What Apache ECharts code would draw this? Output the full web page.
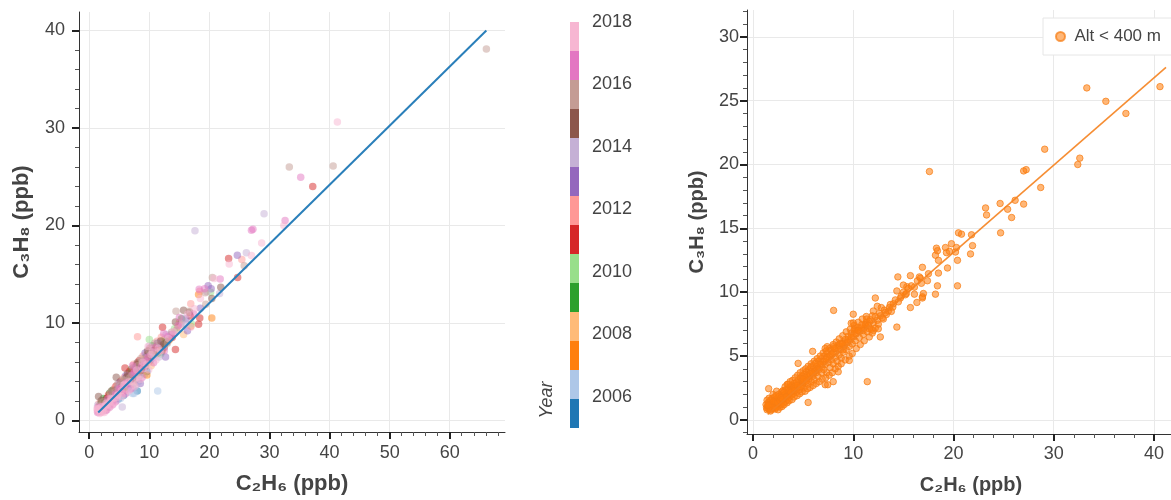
<!DOCTYPE html>
<html>
<head>
<meta charset="utf-8">
<script src="https://cdn.jsdelivr.net/npm/echarts@6/dist/echarts.min.js"></script>
<style>
  html, body { margin: 0; padding: 0; background: #fff; }
  #chart { width: 1171px; height: 500px; }
</style>
</head>
<body>
<div id="chart"></div>
<script>
// C2H6 / C3H8 mixing ratios (ppb), samples below 400 m grouped by year: [C2H6, C3H8]
const y2005 = [[8.0,3.0],[4.3,2.15],[6.5,3.4],[3.0,1.3],[10.2,6.2],[12.0,7.0],[4.9,2.2],[5.7,2.55],[9.6,5.0]];
const y2006 = [[11.4,3.0],[7.2,2.76],[7.45,2.76],[5.05,2.5],[3.65,1.8],[2.5,1.05],[6.85,3.7],[8.8,4.85],[1.6,0.85],[13.5,8.53],[3.25,1.45],[4.95,2.8],[6.1,3.15],
               [4.65,2.05],[5.2,2.25],[6.3,2.85],[8.2,4.0],[9.2,4.7]];
const y2007 = [[20.4,10.5],[16.9,9.65],[18.2,12.9],[9.6,4.66],[5.6,3.25],[7.8,4.7],[10.7,6.95],[13.3,8.25],[4.7,2.9],[2.35,1.15],[9.8,6.8],
               [3.8,2.2],[7.4,4.9],[12.2,7.2]];
const y2008 = [[14.7,9.55],[8.3,5.35],[6.2,4.0],[3.8,2.4],[11.1,7.2],[2.75,1.2],[12.6,8.35],[9.9,5.95],[5.15,2.95],[15.7,8.8],[11.2,7.4],[7.35,3.7],[15.5,10.3],
               [3.5,1.95],[5.3,3.2],[10.3,5.6],[11.2,7.5]];
const y2009 = [[3.4,2.78],[1.9,1.7],[2.15,1.55],[2.65,1.85],[2.9,2.05],[3.3,2.35],[4.55,3.15],[6.0,4.25],[7.1,5.0],[9.5,6.55],[2.4,1.7],[15.35,10.43],[12.7,8.15],[10.2,7.14],[4.5,2.75],[5.9,3.4],[12.0,7.6],
               [2.1,1.75],[2.85,2.2],[2.35,2.25],[3.95,3.1],[7.0,5.25],[10.5,7.65],[8.6,5.8]];
const y2010 = [[10.0,8.28],[20.2,13.15],[8.5,5.85],[5.3,3.75],[3.7,2.6],[12.2,8.1],[14.2,9.4],[6.8,4.8],[2.55,1.6],[17.0,9.9],[8.4,4.6],[11.0,6.7],
               [3.2,1.75],[5.6,3.45],[11.9,6.8],[10.1,6.75]];
const y2011 = [[37.2,24.0],[23.2,16.6],[24.7,14.65],[18.4,10.5],[18.2,9.85],[14.35,7.27],[5.95,5.37],[4.2,2.65],[7.4,5.2],[11.3,7.65],[2.2,1.3],[8.6,5.1],[13.8,8.5],[16.8,10.7],[12.2,9.55],[9.0,5.5],[3.4,2.1],[5.55,3.9],[10.0,6.5],
               [3.0,2.3],[3.2,2.6],[4.45,3.5],[5.25,4.0],[6.7,5.0],[7.7,5.05],[8.3,6.1],[10.1,7.4],[11.6,7.7]];
const y2012 = [[8.04,8.58],[12.0,8.53],[6.55,4.6],[9.2,6.3],[3.5,2.45],[15.0,10.0],[4.9,3.45],[1.85,1.3],[10.45,7.25],[25.4,16.5],[18.4,13.25],[16.9,11.95],[15.2,9.8],[7.4,5.74],[4.1,2.85],[5.8,3.0],[7.7,4.1],
               [1.6,1.7],[2.6,1.55],[4.2,3.3],[5.8,4.4],[7.65,5.6],[8.95,6.6],[11.3,8.1],[8.3,5.6]];
const y2013 = [[24.65,16.95],[19.8,13.8],[12.7,6.5],[13.6,8.8],[7.75,5.45],[9.1,5.8],[5.85,3.8],[3.9,2.7],[16.1,10.4],[20.3,13.5],[18.5,11.5],[16.35,9.2],[11.35,7.9],[8.5,3.77],[2.1,1.0],[4.75,3.3],[6.9,4.15],
               [2.9,1.75],[5.0,3.85],[6.1,4.6],[8.0,5.3],[9.3,6.9],[10.4,7.0]];
const y2014 = [[17.6,19.45],[29.1,21.2],[26.15,17.2],[5.5,1.37],[21.7,13.0],[11.7,7.85],[8.9,6.05],[6.4,4.2],[4.05,2.55],[2.05,1.2],[15.8,10.5],[19.6,13.2],[16.1,9.85],[12.8,8.8],[10.0,7.6],[3.15,1.65],[5.1,3.55],[7.5,4.5],[10.6,6.45],[15.3,9.9],
               [1.4,1.55],[2.1,1.35],[4.1,2.45],[7.25,3.3],[7.9,3.7],[7.1,4.6],[11.6,6.5],[9.2,6.05]];
const y2015 = [[1.56,2.45],[4.5,4.43],[21.9,13.65],[11.0,7.0],[8.0,5.74],[14.35,10.1],[7.2,4.35],[5.4,3.45],[3.2,2.0],[9.7,6.25],[12.9,8.0],[2.85,1.45],[20.4,12.5],[15.7,11.3],[11.9,8.15],[3.95,2.3],[6.25,4.45],[9.3,5.5],[12.4,7.8],[16.7,11.1],
               [2.55,2.0],[2.0,2.0],[3.7,3.0],[6.4,4.8],[8.0,5.9],[6.8,4.3],[9.7,7.1],[12.5,7.5],[10.8,7.2]];
const y2016 = [[33.3,26.0],[40.6,26.1],[20.5,14.65],[14.45,11.2],[16.6,11.2],[10.1,7.05],[7.0,4.55],[8.2,4.9],[4.85,3.05],[3.05,1.9],[13.0,7.9],[5.75,4.1],[1.75,1.1],[11.6,7.14],[25.8,15.85],[19.3,13.1],[19.4,11.9],[13.7,9.04],[8.7,6.0],[3.55,2.0],[4.35,2.95],[6.7,4.35],[8.1,5.6],[11.4,6.9],[14.5,9.25],
               [1.7,1.5],[2.3,1.9],[3.5,2.8],[4.7,3.7],[5.0,2.95],[5.5,4.2],[7.3,5.4],[6.5,4.05],[8.6,6.35],[10.9,7.9],[9.5,6.3]];
const y2017 = [[35.2,24.95],[32.6,20.5],[27.25,19.6],[27.0,19.5],[21.8,14.5],[18.3,13.45],[1.4,0.8],[1.5,0.9],[1.7,0.95],[1.95,1.15],[2.3,1.45],[2.6,1.3],[3.1,2.2],[3.45,1.6],[4.0,2.05],[4.4,2.5],[5.2,3.3],[6.3,3.7],[7.6,4.95],[9.4,6.05],[10.85,7.45],[12.4,8.9],[14.8,9.7],[2.0,0.9],[1.55,1.05],[19.2,13.5],[17.4,10.9],[15.0,10.56],[13.95,8.84],[12.5,7.14],[7.2,5.6],[3.85,1.95],[5.0,3.2],[5.5,2.8],[6.05,3.6],[7.3,4.75],[8.7,5.55],[13.1,8.6],
               [1.5,1.35],[2.7,1.0],[2.9,1.05],[1.8,1.05],[2.4,1.25],[3.4,1.35],[3.9,1.6],[4.4,1.9],[4.4,2.7],[6.0,2.7],[6.9,3.2],[6.2,3.85],[8.8,4.4],[10.7,5.9],[9.8,6.5]];
const y2018 = [[32.4,20.0],[28.7,18.2],[23.3,16.05],[27.0,16.9],[1.35,0.95],[1.45,1.1],[1.65,1.2],[1.8,0.8],[2.0,1.4],[2.25,0.95],[2.45,1.35],[2.7,1.5],[2.8,1.75],[2.95,1.6],[3.35,1.85],[3.6,2.25],[3.75,2.15],[4.15,2.3],[4.8,2.6],[5.7,3.6],[6.6,3.95],[8.0,4.4],[9.0,5.3],[10.3,6.75],[11.8,7.1],[1.9,1.0],[20.8,14.55],[18.5,12.5],[17.5,11.45],[16.9,9.55],[13.2,8.4],[10.5,7.0],[9.8,7.57],[4.6,2.35],[5.35,3.05],[7.05,3.95],[7.9,5.15],[9.6,5.75],[11.5,7.4],[14.0,9.1],[16.4,10.9],
               [1.3,1.2],[1.75,0.7],[2.2,0.85],[2.5,0.8],[1.5,1.15],[3.1,1.2],[3.6,1.5],[4.1,1.8],[4.7,2.6],[5.45,2.45],[6.6,3.0],[7.6,3.5],[5.9,3.7],[8.5,4.2],[9.9,5.2],[11.1,6.2],[8.9,5.95]];

// samples taken above 400 m: [C2H6, C3H8, year]
const aboveAlt400 = [[66.1,38.1,2016],[41.3,30.6,2018]];

// regression lines: [C2H6, C3H8] end points
const fitAll = [[1.5,0.81],[66.1,40.0]];
const fitLowAlt = [[1.46,0.43],[41.2,27.6]];

// tick labels
const leftXTicks = [0,10,20,30,40,50,60];
const leftYTicks = [0,10,20,30,40];
const rightXTicks = [0,10,20,30,40];
const rightYTicks = [0,5,10,15,20,25,30];
const yearTicks = [2006,2008,2010,2012,2014,2016,2018];

const yearMin = 2005, yearMax = 2018;
const palette = ['#1f77b4','#aec7e8','#ff7f0e','#ffbb78','#2ca02c','#98df8a','#d62728',
                 '#ff9896','#9467bd','#c5b0d5','#8c564b','#c49c94','#e377c2','#f7b6d2'];

const byYear = {2005:y2005,2006:y2006,2007:y2007,2008:y2008,2009:y2009,2010:y2010,2011:y2011,
                2012:y2012,2013:y2013,2014:y2014,2015:y2015,2016:y2016,2017:y2017,2018:y2018};

function yearColor(year) {
  const n = palette.length;
  const i = Math.floor((year - yearMin) / (yearMax - yearMin) * n);
  return palette[Math.max(0, Math.min(n - 1, i))];
}

// all samples with their year, and the low-altitude subset
const allSamples = [];
const lowAltSamples = [];
Object.keys(byYear).forEach(function (yr) {
  byYear[yr].forEach(function (p) {
    allSamples.push([p[0], p[1], +yr]);
    lowAltSamples.push([p[0], p[1]]);
  });
});
aboveAlt400.forEach(function (p) { allSamples.push(p); });

function steps(from, to, step, skip) {
  const out = [];
  for (let v = from; v <= to + 1e-9; v += step) {
    const r = Math.round(v * 1000) / 1000;
    if (skip.indexOf(r) < 0) out.push(r);
  }
  return out;
}

const FONT = "'Liberation Sans', Arial, Helvetica, sans-serif";
const TEXT = '#444';
const GRID_LINE = '#e9e9e9';

function mainAxis(o) {
  return {
    gridIndex: o.grid, type: 'value', min: o.min, max: o.max, position: o.pos,
    axisLine: { show: true, onZero: false, lineStyle: { color: '#333', width: 1 } },
    axisTick: { show: true, customValues: o.ticks, length: 7, lineStyle: { color: '#222', width: 2 } },
    axisLabel: { customValues: o.ticks, margin: o.margin, fontSize: 18, color: TEXT, fontFamily: FONT },
    splitLine: { show: true, lineStyle: { color: GRID_LINE, width: 1 } },
    name: o.name, nameLocation: 'middle', nameGap: o.nameGap,
    nameTextStyle: { fontSize: o.nameSize, fontWeight: 'bold', color: TEXT, fontFamily: FONT, padding: o.namePad || 0 }
  };
}
function minorAxis(o) {
  return {
    gridIndex: o.grid, type: 'value', min: o.min, max: o.max, position: o.pos,
    axisLine: { show: false, onZero: false },
    axisTick: { show: true, customValues: o.ticks, length: 4, lineStyle: { color: '#555', width: 1 } },
    axisLabel: { show: false },
    splitLine: { show: false }
  };
}

const L = { xmin: -1.7, xmax: 69.2, ymin: -1.2, ymax: 41.9 };
const R = { xmin: -0.6, xmax: 41.7, ymin: -1.1, ymax: 32.1 };

const option = {
  animation: false,
  backgroundColor: '#fff',
  grid: [
    { left: 79, top: 12, width: 426, height: 427 },
    { left: 570, top: 22, width: 9, height: 406 },
    { left: 747, top: 10, width: 424, height: 437 }
  ],
  xAxis: [
    mainAxis({ grid: 0, min: L.xmin, max: L.xmax, pos: 'bottom', ticks: leftXTicks, margin: 12,
               name: 'C₂H₆ (ppb)', nameGap: 41, nameSize: 22 }),
    minorAxis({ grid: 0, min: L.xmin, max: L.xmax, pos: 'bottom', ticks: steps(0, 68, 2, leftXTicks) }),
    { gridIndex: 1, type: 'value', min: 0, max: 1, show: false },
    mainAxis({ grid: 2, min: R.xmin, max: R.xmax, pos: 'bottom', ticks: rightXTicks, margin: 11,
               name: 'C₂H₆ (ppb)', nameGap: 41, nameSize: 20, namePad: [0, 0, 0, 24] }),
    minorAxis({ grid: 2, min: R.xmin, max: R.xmax, pos: 'bottom', ticks: steps(0, 40, 2, rightXTicks) })
  ],
  yAxis: [
    mainAxis({ grid: 0, min: L.ymin, max: L.ymax, pos: 'left', ticks: leftYTicks, margin: 14,
               name: 'C₃H₈ (ppb)', nameGap: 46, nameSize: 22 }),
    minorAxis({ grid: 0, min: L.ymin, max: L.ymax, pos: 'left', ticks: steps(0, 40, 2, leftYTicks) }),
    {
      gridIndex: 1, type: 'value', min: yearMin, max: yearMax, position: 'right', z: 10,
      axisLine: { show: false },
      axisTick: { show: true, inside: true, customValues: yearTicks, length: 4, lineStyle: { color: '#fff', width: 1 } },
      axisLabel: { customValues: yearTicks, margin: 13, fontSize: 18, color: TEXT, fontFamily: FONT, padding: [6, 0, 0, 0],
                   formatter: function (v) { return String(v); } },
      splitLine: { show: false }
    },
    mainAxis({ grid: 2, min: R.ymin, max: R.ymax, pos: 'left', ticks: rightYTicks, margin: 8,
               name: 'C₃H₈ (ppb)', nameGap: 40, nameSize: 20 }),
    minorAxis({ grid: 2, min: R.ymin, max: R.ymax, pos: 'left', ticks: steps(-1, 32, 1, rightYTicks) })
  ],
  legend: {
    data: ['Alt < 400 m'],
    left: 1043, top: 18,
    padding: [10, 12, 10, 12],
    backgroundColor: '#fff', borderColor: '#e6e6e6', borderWidth: 1,
    itemWidth: 18, itemHeight: 9, icon: 'circle',
    textStyle: { fontSize: 17, color: TEXT, fontFamily: FONT }
  },
  graphic: [{
    type: 'text', x: 547, y: 400, rotation: Math.PI / 2,
    style: { text: 'Year', font: 'italic 18px ' + FONT, fill: TEXT, align: 'center', verticalAlign: 'middle' }
  }],
  series: [
    {
      type: 'scatter', xAxisIndex: 0, yAxisIndex: 0, data: allSamples,
      symbolSize: 7.5, itemStyle: { opacity: 0.5, color: function (p) { return yearColor(p.value[2]); } },
      silent: true, z: 2
    },
    {
      type: 'line', xAxisIndex: 0, yAxisIndex: 0, data: fitAll, symbol: 'none',
      lineStyle: { color: '#2a7fba', width: 2 }, silent: true, z: 3
    },
    {
      type: 'custom', xAxisIndex: 2, yAxisIndex: 2,
      data: palette.map(function (c, i) { return [i, yearMin]; }),
      renderItem: function (params, api) {
        const i = api.value(0);
        const step = (yearMax - yearMin) / palette.length;
        const p0 = api.coord([0, yearMin + i * step]);
        const p1 = api.coord([1, yearMin + (i + 1) * step]);
        return {
          type: 'rect',
          shape: { x: p0[0], y: p1[1], width: p1[0] - p0[0], height: p0[1] - p1[1] },
          style: { fill: palette[i] }
        };
      },
      silent: true, z: 2
    },
    {
      name: 'Alt < 400 m', type: 'scatter', xAxisIndex: 3, yAxisIndex: 3, data: lowAltSamples,
      symbolSize: 6.5,
      itemStyle: { color: 'rgba(255,127,14,0.7)', borderColor: 'rgba(246,125,20,0.9)', borderWidth: 1 },
      silent: true, z: 2
    },
    {
      type: 'line', xAxisIndex: 3, yAxisIndex: 3, data: fitLowAlt, symbol: 'none',
      lineStyle: { color: 'rgba(245,130,30,0.9)', width: 1.6 }, silent: true, z: 3
    }
  ]
};

const chart = echarts.init(document.getElementById('chart'), null, { renderer: 'canvas' });
chart.setOption(option);
</script>
</body>
</html>
